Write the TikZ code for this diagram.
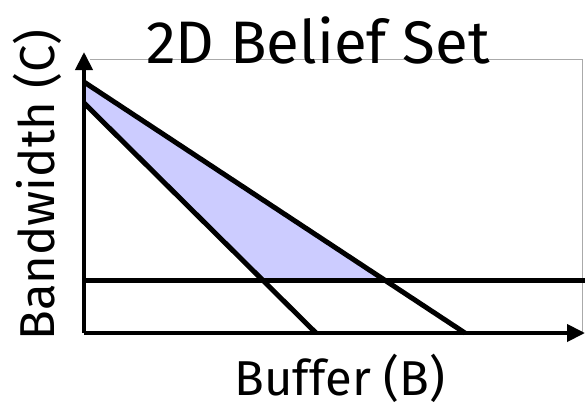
\documentclass[tikz,border=0pt]{standalone}
\usepackage{fontspec}
\setmainfont{Fira Sans}
\usepackage{xcolor}
\usetikzlibrary{
    arrows.meta,
    positioning,
    calc
}
\definecolor{belief}{RGB}{204,204,255}
\definecolor{framegray}{RGB}{170,170,170}
\tikzset{
    axis/.style={
        -{Triangle[length=18pt,width=17pt]},
        line width=4pt,
        draw=black
    },
    bound/.style={
        line width=5pt,
        draw=black,
        line cap=butt
    },
    label/.style={
        font=\fontsize{49pt}{53pt}\selectfont,
        inner sep=0pt
    }
}
\begin{document}
\begin{tikzpicture}[x=1pt, y=-1pt]
        \useasboundingbox (0,0) rectangle (585,407);
        % Corners of the plot
        \coordinate (origin) at (84,333);
        \coordinate (ytop) at (84,52);
        \coordinate (xend) at (585,333);
        % Constraint lines
        \coordinate (a1) at (84,82);
        \coordinate (a2) at (465,333);
        \coordinate (b1) at (84,103);
        \coordinate (b2) at (316,333);
        \coordinate (h1) at (84,280);
        \coordinate (h2) at (585,280);
        \coordinate (pa) at (384.4,280);
        \coordinate (pb) at (262.6,280);
        % Frame
        \draw[framegray, line width=0.8pt] (90,59) -- (582,59) -- (582,333);
        % Belief region
        \fill[belief] (a1) -- (pa) -- (pb) -- (b1) -- cycle;
        \draw[bound] (a1) -- (a2);
        \draw[bound] (b1) -- (b2);
        \draw[bound] (h1) -- (h2);
        % Axes
        \draw[axis] (origin) -- (ytop);
        \draw[axis] (origin) -- (xend);
        % Labels
        \node[label, font=\fontsize{60pt}{64pt}\selectfont] (title) at (318,40) {2D Belief Set};
        \node[label] (xlabel) at (340,378) {Buffer (B)};
        \node[label, rotate=90] (ylabel) at (37,185) {Bandwidth (C)};
    \end{tikzpicture}
\end{document}
